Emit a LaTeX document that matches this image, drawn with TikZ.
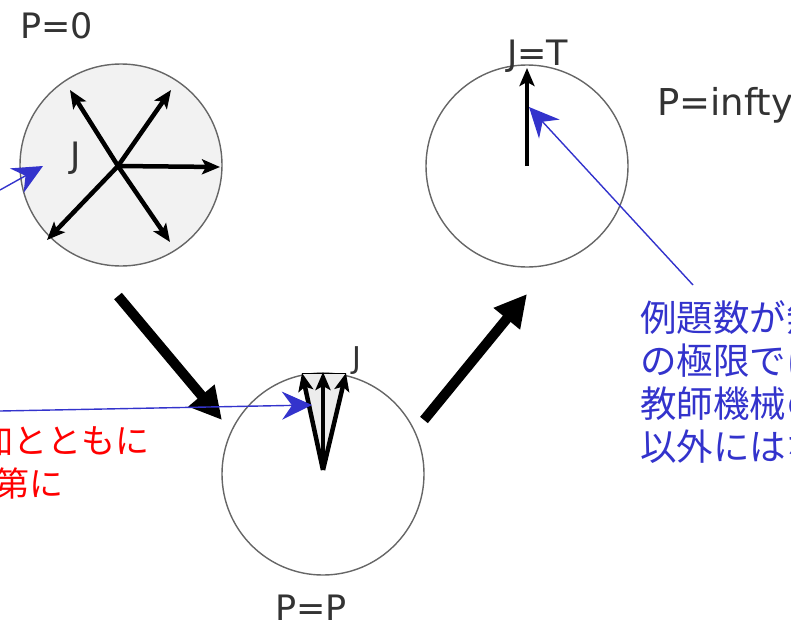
\documentclass[tikz,border=0pt]{standalone}
\usepackage{fontspec}
\setmainfont{DejaVu Sans}
\newfontfamily\jpfont{Noto Sans CJK JP}
\usetikzlibrary{arrows.meta,positioning,calc}
\definecolor{noteblue}{RGB}{51,51,204}
\definecolor{notered}{RGB}{255,0,0}
\tikzset{
  ring/.style={draw=black!60, line width=1.4pt, circle, minimum size=202pt, inner sep=0pt},
  lab/.style={font=\fontsize{35}{40}\selectfont, text=black!80, inner sep=0pt},
  vec/.style={-{Stealth[length=18pt,width=15pt,inset=4pt]}, line width=4.5pt},
  move/.style={-{Triangle[length=32pt,width=32pt]}, line width=10pt},
  note/.style={-{Stealth[length=30pt,width=28pt,inset=10pt]}, draw=noteblue, line width=1.4pt},
  jtext/.style={font=\jpfont\fontsize{34}{42}\selectfont, inner sep=0pt, align=left},
}

\begin{document}
\begin{tikzpicture}[x=1pt,y=-1pt]
  \useasboundingbox (0,0) rectangle (791,627);
  \clip (0,0) rectangle (791,627);
  % the three states
  \node[ring, fill=gray!10] (zero) at (121,165) {};
  \node[ring] (fin) at (323,474) {};
  \node[ring] (inf) at (527,166) {};
  \node[lab, anchor=base west] (pzero) at (20,38) {P=0};
  \node[lab, anchor=base west] (pfin) at (275,620) {P=P};
  \node[lab, anchor=base west, font=\fontsize{37}{42}\selectfont] (pinf) at (657,115) {P=infty};
  % P=0 : spread in all directions
  \coordinate (zc) at (118,166);
  \foreach \n/\x/\y in {ul/70/90, ur/171/90, r/220/167, ll/47/240, lr/170/242}
    \coordinate (z\n) at (\x,\y);
  \foreach \n in {ul,ur,r,ll,lr}
    \draw[vec] (zc) -- (z\n);
  \node[lab, anchor=base west] (jzero) at (70,167) {J};
  % P=P : narrowed fan
  \coordinate (fc) at (323,470);
  \coordinate (fl) at (302,373);
  \coordinate (fm) at (323,372);
  \coordinate (fr) at (346,373);
  \fill[gray!15] (fc) -- (fl) -- (fr) -- cycle;
  \draw[line width=1pt] (fl) -- (fr);
  \foreach \n in {fl,fm,fr}
    \draw[vec] (fc) -- (\n);
  \node[lab, anchor=base west, font=\fontsize{30}{36}\selectfont] (jfin) at (352,368) {J};
  % P=infty : J equals T
  \coordinate (ic) at (527,166);
  \coordinate (it) at (527,68);
  \draw[vec] (ic) -- (it);
  \node[lab, anchor=base west] (jinf) at (507,65) {J=T};
  % learning steps
  \coordinate (m1s) at (118,296);
  \coordinate (m1e) at (222,420);
  \coordinate (m2s) at (424,420);
  \coordinate (m2e) at (527,294);
  \draw[move] (m1s) -- (m1e);
  \draw[move] (m2s) -- (m2e);
  % notes
  \node[jtext, text=noteblue, anchor=base west, font=\jpfont\fontsize{36.5}{43}\selectfont] (notelim) at (640,460)
    {例題数が無限大\\の極限では\\教師機械の\\以外にはない};
  \node[jtext, text=notered, anchor=base east] (notegrow) at (150,453) {増加とともに};
  \node[jtext, text=notered, anchor=base east] (notestep) at (64,496) {次第に};
  \coordinate (na) at (0,190);
  \coordinate (nb) at (0,411);
  \coordinate (nc) at (693,285);
  \draw[note] (na) -- (43,166);
  \draw[note] (nb) -- (312,405);
  \draw[note] (nc) -- (529,107);
\end{tikzpicture}
\end{document}
